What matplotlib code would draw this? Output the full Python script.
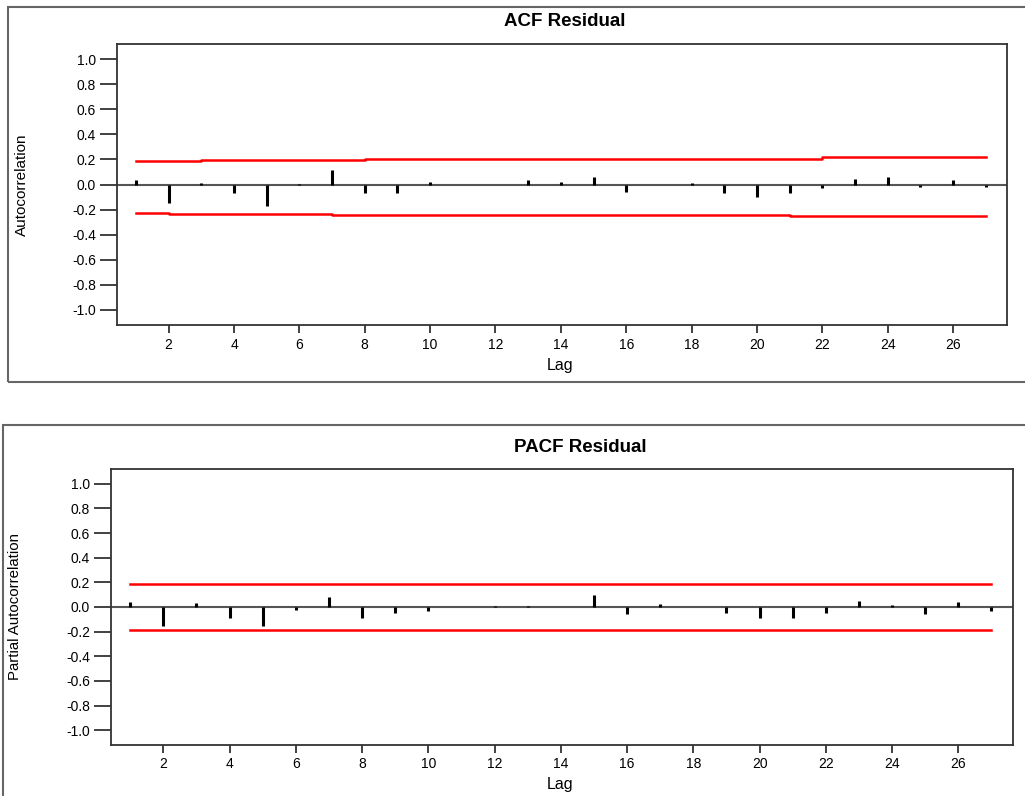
import matplotlib.pyplot as plt
import numpy as np
from matplotlib.patches import Rectangle

lags = np.arange(1, 28)

acf = [0.035, -0.15, 0.013, -0.07, -0.17, 0.003, 0.115, -0.07, -0.07, 0.02,
       0.0, 0.0, 0.035, 0.02, 0.06, -0.06, 0.0, 0.013, -0.07, -0.10,
       -0.07, -0.025, 0.042, 0.06, -0.018, 0.035, -0.018]
acf_upper = [0.187, 0.187, 0.195, 0.195, 0.195, 0.195, 0.195, 0.205, 0.205, 0.205,
             0.205, 0.205, 0.205, 0.205, 0.205, 0.205, 0.205, 0.205, 0.205, 0.205,
             0.205, 0.216, 0.216, 0.216, 0.216, 0.216, 0.216]
acf_lower = [-0.225, -0.233, -0.233, -0.233, -0.233, -0.233, -0.240, -0.240, -0.240, -0.240,
             -0.240, -0.240, -0.240, -0.240, -0.240, -0.240, -0.240, -0.240, -0.240, -0.240,
             -0.250, -0.250, -0.250, -0.250, -0.250, -0.250, -0.250]

pacf = [0.04, -0.154, 0.032, -0.092, -0.154, -0.022, 0.078, -0.092, -0.05, -0.03,
        0.0, 0.01, 0.01, 0.0, 0.094, -0.06, 0.025, 0.0, -0.05, -0.092,
        -0.092, -0.05, 0.05, 0.016, -0.06, 0.04, -0.03]
pacf_limit = 0.19

yticks = np.round(np.arange(-1.0, 1.01, 0.2), 1)
xticks = np.arange(2, 27, 2)

W, H = 1025, 796
fig = plt.figure(figsize=(W / 100, H / 100), dpi=100)
plt.rcParams['font.family'] = ['Liberation Sans', 'DejaVu Sans']

# outer frames around each chart
fig.patches.append(Rectangle((8 / W, 1 - 382 / H), 1.1, 375 / H, transform=fig.transFigure,
                             fill=False, ec='#666666', lw=1.5))
fig.patches.append(Rectangle((3 / W, -0.1), 1.1, 0.1 + 1 - 425 / H, transform=fig.transFigure,
                             fill=False, ec='#666666', lw=1.5))


def panel(rect, vals, upper, lower, title, ylabel, title_xy, ylabel_x, ylabel_size, lag_xy):
    ax = fig.add_axes(rect)
    ax.axhline(0, color='#555555', lw=1.5, zorder=1)
    ax.vlines(lags, 0, vals, color='black', lw=2.2, zorder=3)
    ax.step(lags, upper, where='post', color='red', lw=1.8, zorder=2)
    ax.step(lags, lower, where='post', color='red', lw=1.8, zorder=2)
    ax.set_xlim(0.42, 27.65)
    ax.set_ylim(-1.12, 1.12)
    ax.set_yticks(yticks)
    ax.set_yticklabels(['%.1f' % (v if abs(v) > 1e-9 else 0.0) for v in yticks])
    ax.set_xticks(xticks)
    ax.tick_params(axis='y', length=12, width=1.3, color='#333333', labelsize=10, pad=3)
    ax.tick_params(axis='x', length=6, width=1.3, color='#333333', labelsize=10, pad=3)
    for s in ax.spines.values():
        s.set_linewidth(1.3)
        s.set_color('#333333')
    fig.text(title_xy[0] / W, 1 - title_xy[1] / H, title, ha='center', va='center',
             fontsize=13.5, fontweight='bold')
    fig.text(ylabel_x / W, rect[1] + rect[3] / 2, ylabel, rotation=90,
             ha='center', va='center', fontsize=ylabel_size)
    fig.text(lag_xy[0] / W, 1 - lag_xy[1] / H, 'Lag', ha='center', va='center', fontsize=11.5)
    return ax


panel([117 / W, 1 - 325 / H, 890 / W, 281 / H], acf, acf_upper, acf_lower,
      'ACF Residual', 'Autocorrelation', (565, 22), 22, 11, (560, 365))
panel([111 / W, 1 - 745 / H, 902 / W, 276 / H], pacf,
      [pacf_limit] * len(lags), [-pacf_limit] * len(lags),
      'PACF Residual', 'Partial Autocorrelation', (580, 447), 15, 10.8, (560, 785))

fig.savefig('out.png', dpi=100)
